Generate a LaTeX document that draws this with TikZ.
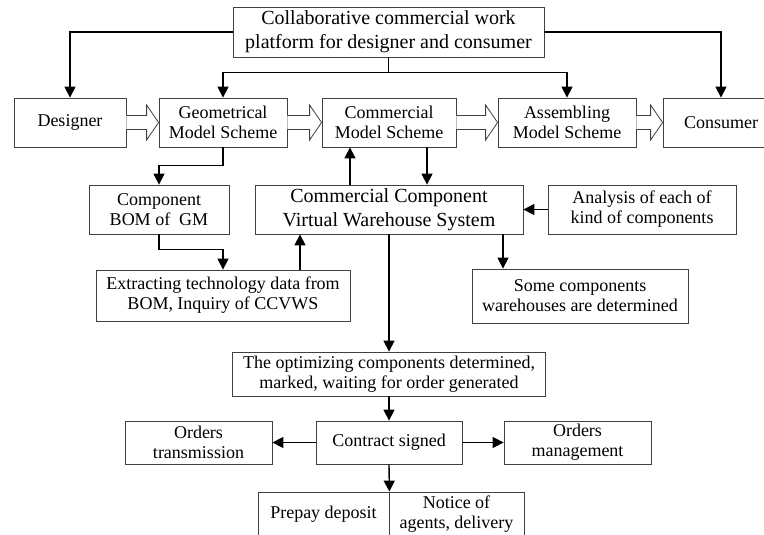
\documentclass[tikz,border=0pt]{standalone}
\usepackage{fontspec}
\setmainfont{Liberation Serif}
\usetikzlibrary{arrows.meta}

% hollow block arrow from the east side of #1 to the west side of #2
\newcommand{\hollowarrow}[2]{%
  \draw[harrow] ([yshift=7pt]#1.east) -- ([xshift=-12pt,yshift=7pt]#2.west)
    -- ([xshift=-12pt,yshift=17.5pt]#2.west) -- (#2.west)
    -- ([xshift=-12pt,yshift=-17.5pt]#2.west) -- ([xshift=-12pt,yshift=-7pt]#2.west)
    -- ([yshift=-7pt]#1.east);}

\begin{document}
\begin{tikzpicture}[x=1pt,y=-1pt]
	\tikzstyle{box}=[shape=rectangle,draw=black!75,line width=0.8pt,fill=white,inner sep=0pt,minimum height=49pt,align=center,font=\fontsize{18}{20}\selectfont]
	\tikzstyle{bigbox}=[box,font=\fontsize{20}{24}\selectfont]
	\tikzstyle{arr}=[line width=1.4pt,-{Triangle[length=11pt,width=11pt]}]
	\tikzstyle{harrow}=[draw=black!75,line width=0.8pt,fill=white]

	\clip (0,0) rectangle (764,535);

	%%% platform and the main chain
	\node (platform) at (388.5,32) [bigbox, minimum width=311pt, minimum height=50pt] {Collaborative commercial work\\platform for designer and consumer};

	\node (designer) at (70,122.5) [box, minimum width=112pt] {Designer};
	\node (geom) at (223,122.5) [box, minimum width=128pt] {Geometrical\\Model Scheme};
	\node (comm) at (389,122.5) [box, minimum width=134pt] {Commercial\\Model Scheme};
	\node (assem) at (567,122.5) [box, minimum width=138pt] {Assembling\\Model Scheme};
	\node (consumer) at (721,122.5) [box, minimum width=116pt] {Consumer};

	\hollowarrow{designer}{geom}
	\hollowarrow{geom}{comm}
	\hollowarrow{comm}{assem}
	\hollowarrow{assem}{consumer}

	\draw[arr] (platform.west) -| (designer.north);
	\draw[arr] (platform.east) -| (consumer.north);
	\draw[line width=1.4pt] (platform.south) -- ++(0,15) coordinate (split);
	\draw[arr] (split) -| (geom.north);
	\draw[arr] (split) -| (assem.north);

	%%% warehouse level
	\node (bom) at (159,209.5) [box, minimum width=140pt] {Component\\BOM of\ \ GM};
	\node (ccvws) at (389,209.5) [bigbox, minimum width=268pt] {Commercial Component\\Virtual Warehouse System};
	\node (analysis) at (642,209.5) [box, minimum width=188pt] {Analysis of each of\\kind of components};
	\node (extract) at (223,295.5) [box, minimum width=254pt, minimum height=51pt] {Extracting technology data from\\BOM, Inquiry of CCVWS};
	\node (some) at (580,296) [box, minimum width=216pt, minimum height=54pt] {Some components\\warehouses are determined};

	\draw[arr] (geom.south) -- ++(0,18) -| (bom.north);
	\draw[arr] ([xshift=-39pt]ccvws.north) -- ([xshift=-39pt]comm.south);
	\draw[arr] ([xshift=38pt]comm.south) -- ([xshift=38pt]ccvws.north);
	\draw[arr] (bom.south) -- ++(0,15) -| (extract.north);
	\draw[arr] ([xshift=77pt]extract.north) -- ([xshift=77pt]extract.north |- ccvws.south);
	\draw[arr] (analysis.west) -- (ccvws.east);
	\draw[arr] ([xshift=114pt]ccvws.south) -- ([xshift=114pt]ccvws.south |- some.north);

	%%% orders
	\node (optim) at (389,374) [box, minimum width=313pt, minimum height=44pt] {The optimizing components determined,\\marked, waiting for order generated};
	\node (contract) at (389,442.5) [box, minimum width=146pt, minimum height=43pt] {Contract signed};
	\node (trans) at (198.5,442.5) [box, minimum width=147pt, minimum height=43pt] {Orders\\transmission};
	\node (manage) at (577.5,442.5) [box, minimum width=147pt, minimum height=43pt] {Orders\\management};
	\node (prepay) at (323.5,514) [box, minimum width=131pt, minimum height=44pt] {Prepay deposit};
	\node (notice) at (456.5,514) [box, minimum width=135pt, minimum height=44pt] {Notice of\\agents, delivery};

	\draw[arr] (ccvws.south) -- (ccvws.south |- optim.north);
	\draw[arr] (optim.south) -- (contract.north);
	\draw[arr] (contract.west) -- (trans.east);
	\draw[arr] (contract.east) -- (manage.west);
	\draw[arr] (contract.south) -- (prepay.north east);
\end{tikzpicture}
\end{document}
